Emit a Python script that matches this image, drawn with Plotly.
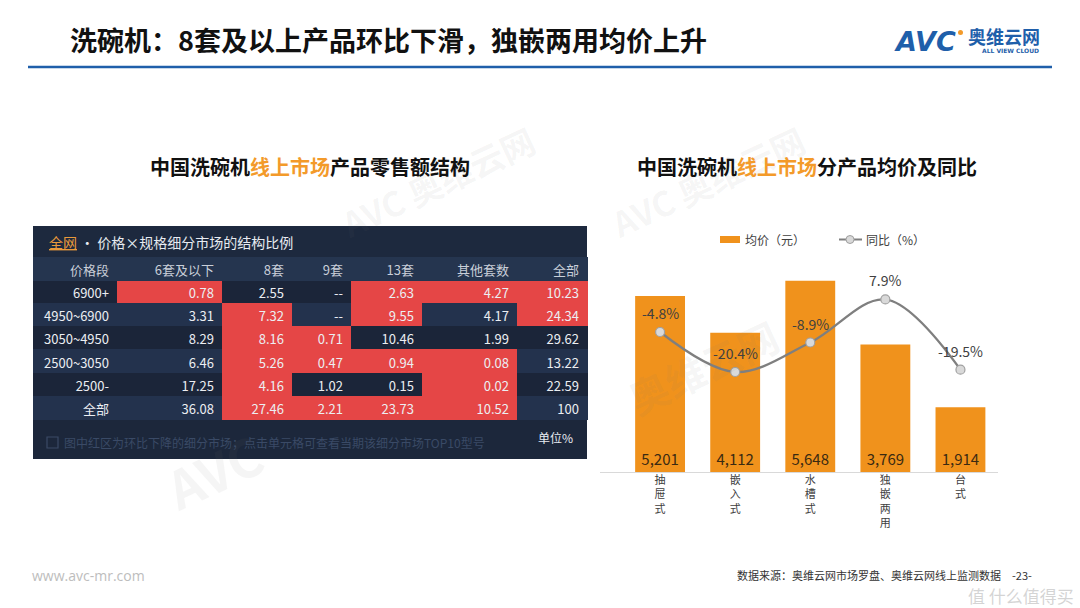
import plotly.graph_objects as go

W, H = 1080, 608
FONT = "Noto Sans CJK SC"


def px(x):
    return x / W


def py(y):
    return 1 - y / H


# ---------------- data ----------------
main_title = "洗碗机：8套及以上产品环比下滑，独嵌两用均价上升"
left_title = "中国洗碗机<span style='color:#F39A2A'>线上市场</span>产品零售额结构"
right_title = "中国洗碗机<span style='color:#F39A2A'>线上市场</span>分产品均价及同比"

tbl_tag = "全网"
tbl_caption = " • 价格×规格细分市场的结构比例"
tbl_note = "图中红区为环比下降的细分市场；点击单元格可查看当期该细分市场TOP10型号"
tbl_unit = "单位%"

col_headers = ["价格段", "6套及以下", "8套", "9套", "13套", "其他套数", "全部"]
price_bands = ["6900+", "4950~6900", "3050~4950", "2500~3050", "2500-", "全部"]
vals_6 = ["0.78", "3.31", "8.29", "6.46", "17.25", "36.08"]
vals_8 = ["2.55", "7.32", "8.16", "5.26", "4.16", "27.46"]
vals_9 = ["--", "--", "0.71", "0.47", "1.02", "2.21"]
vals_13 = ["2.63", "9.55", "10.46", "0.94", "0.15", "23.73"]
vals_other = ["4.27", "4.17", "1.99", "0.08", "0.02", "10.52"]
vals_all = ["10.23", "24.34", "29.62", "13.22", "22.59", "100"]
# 1 = 环比下降 (red cell)
down_6 = [1, 0, 0, 0, 0, 0]
down_8 = [0, 1, 1, 1, 1, 1]
down_9 = [0, 0, 1, 1, 0, 1]
down_13 = [1, 1, 0, 1, 0, 1]
down_other = [1, 0, 0, 1, 1, 1]
down_all = [1, 1, 0, 0, 0, 0]

categories = ["抽屉式", "嵌入式", "水槽式", "独嵌两用", "台式"]
avg_price = [5201, 4112, 5648, 3769, 1914]
yoy_pct = [-4.8, -20.4, -8.9, 7.9, -19.5]
legend_bar = "均价（元）"
legend_line = "同比（%）"

source_text = "数据来源：奥维云网市场罗盘、奥维云网线上监测数据"
page_no = "-23-"
site = "www.avc-mr.com"

# ---------------- styles ----------------
RED = "#E54646"
ROW_DARK = "#1B2539"
ROW_LIGHT = "#23324D"
HEAD_BG = "#25354F"
BAR = "#F0921C"
BLUE = "#1F5FAA"

fig = go.Figure()

# ---------------- table ----------------
row_bg = [ROW_DARK if i % 2 == 0 else ROW_LIGHT for i in range(len(price_bands))]
downs = [down_6, down_8, down_9, down_13, down_other, down_all]
fills = [row_bg] + [[RED if d else row_bg[i] for i, d in enumerate(col)] for col in downs]

fig.add_trace(go.Table(
    domain=dict(x=[px(33), px(587)], y=[py(421), py(257)]),
    columnwidth=[84, 105, 70, 59, 71, 95, 70],
    header=dict(values=col_headers, fill_color=HEAD_BG,
                line=dict(color=HEAD_BG, width=1), align="right", height=23,
                font=dict(color="#C9CFD9", size=13, family=FONT)),
    cells=dict(values=[price_bands, vals_6, vals_8, vals_9, vals_13, vals_other, vals_all],
               fill_color=fills, line=dict(color=fills, width=1), align="right", height=23.3,
               font=dict(color="#ECEEF2", size=13, family=FONT)),
))

shapes = []
annotations = []

# ---------------- watermarks (faint) ----------------
for (wx, wy, txt, sz) in [(330, 112, "AVC 奥维云网", 34), (815, 112, "AVC 奥维云网", 34),
                          (150, 528, "AVC", 52), (790, 430, "奥维云网", 40)]:
    annotations.append(dict(xref="paper", yref="paper", x=px(wx), y=py(wy), text="<b>" + txt + "</b>",
                            showarrow=False, textangle=-25,
                            font=dict(size=sz, color="rgba(120,120,120,0.07)", family=FONT)))

# title bar and footer of the panel
shapes.append(dict(type="rect", xref="paper", yref="paper", x0=px(33), x1=px(587),
                   y0=py(257), y1=py(226), fillcolor="#1D293E", line=dict(width=0), layer="below"))
shapes.append(dict(type="rect", xref="paper", yref="paper", x0=px(33), x1=px(587),
                   y0=py(459), y1=py(420), fillcolor="#1C273B", line=dict(width=0), layer="below"))
annotations.append(dict(xref="paper", yref="paper", x=px(47), y=py(242), xanchor="left", yanchor="middle",
                        text="<span style='color:#E99A3B'><u>" + tbl_tag + "</u></span>" + tbl_caption,
                        showarrow=False, font=dict(size=14, color="#E8ECF2", family=FONT)))
# note icon
shapes.append(dict(type="rect", xref="paper", yref="paper", x0=px(47), x1=px(58),
                   y0=py(448), y1=py(437), fillcolor="rgba(0,0,0,0)",
                   line=dict(color="#3A4A66", width=1.2)))
annotations.append(dict(xref="paper", yref="paper", x=px(62), y=py(443), xanchor="left", yanchor="middle",
                        text=tbl_note, showarrow=False, font=dict(size=12, color="#3A4A66", family=FONT)))
annotations.append(dict(xref="paper", yref="paper", x=px(575), y=py(437), xanchor="right", yanchor="middle",
                        text=tbl_unit, showarrow=False, font=dict(size=12, color="#E8ECF2", family=FONT)))

# ---------------- bar + line chart ----------------
fig.add_trace(go.Bar(
    x=categories, y=avg_price, marker=dict(color=BAR, line=dict(width=0)),
    texttemplate="%{y:,}", textposition="inside", insidetextanchor="start",
    textangle=0, constraintext="none",
    textfont=dict(size=15, color="#3A2A12", family=FONT),
    hoverinfo="skip", showlegend=False, xaxis="x", yaxis="y",
))
fig.add_trace(go.Scatter(
    x=categories, y=yoy_pct, mode="lines+markers",
    line=dict(color="#7F7F7F", width=2.3, shape="spline", smoothing=1.0),
    marker=dict(size=9, color="#D9D9D9", line=dict(color="#A0A0A0", width=1.2)),
    hoverinfo="skip", showlegend=False, xaxis="x", yaxis="y2",
))
for c, v in zip(categories, yoy_pct):
    annotations.append(dict(xref="x", yref="y2", x=c, y=v, yshift=19, text=f"{v:.1f}%",
                            showarrow=False, font=dict(size=14, color="#404040", family=FONT)))

# baseline
shapes.append(dict(type="line", xref="paper", yref="paper", x0=px(600), x1=px(998),
                   y0=py(472.5), y1=py(472.5), line=dict(color="#D9D9D9", width=1)))

# legend (manual)
shapes.append(dict(type="rect", xref="paper", yref="paper", x0=px(720), x1=px(740),
                   y0=py(243), y1=py(236), fillcolor=BAR, line=dict(width=0)))
annotations.append(dict(xref="paper", yref="paper", x=px(743), y=py(239.5), xanchor="left", yanchor="middle",
                        text=legend_bar, showarrow=False, font=dict(size=12, color="#404040", family=FONT)))
shapes.append(dict(type="line", xref="paper", yref="paper", x0=px(839), x1=px(862),
                   y0=py(239.5), y1=py(239.5), line=dict(color="#7F7F7F", width=2)))
shapes.append(dict(type="circle", xref="paper", yref="paper", x0=px(846), x1=px(854),
                   y0=py(243.5), y1=py(235.5), fillcolor="#D9D9D9", line=dict(color="#A0A0A0", width=1)))
annotations.append(dict(xref="paper", yref="paper", x=px(864), y=py(239.5), xanchor="left", yanchor="middle",
                        text=legend_line, showarrow=False, font=dict(size=12, color="#404040", family=FONT)))

# ---------------- titles / header / footer ----------------
annotations.append(dict(xref="paper", yref="paper", x=px(68), y=py(39), xanchor="left", yanchor="middle",
                        text="<b>" + main_title + "</b>", showarrow=False,
                        font=dict(size=27, color="#111111", family=FONT)))
shapes.append(dict(type="line", xref="paper", yref="paper", x0=px(28), x1=px(1052),
                   y0=py(67), y1=py(67), line=dict(color=BLUE, width=2.5)))
annotations.append(dict(xref="paper", yref="paper", x=px(310), y=py(166), xanchor="center", yanchor="middle",
                        text="<b>" + left_title + "</b>", showarrow=False,
                        font=dict(size=20, color="#111111", family=FONT)))
annotations.append(dict(xref="paper", yref="paper", x=px(807), y=py(166), xanchor="center", yanchor="middle",
                        text="<b>" + right_title + "</b>", showarrow=False,
                        font=dict(size=20, color="#111111", family=FONT)))

# logo
annotations.append(dict(xref="paper", yref="paper", x=px(892), y=py(41), xanchor="left", yanchor="middle",
                        text="<b><i>AVC</i></b>", showarrow=False,
                        font=dict(size=27, color=BLUE, family="DejaVu Sans")))
shapes.append(dict(type="circle", xref="paper", yref="paper", x0=px(958), x1=px(963),
                   y0=py(35), y1=py(30), fillcolor="#F39A2A", line=dict(width=0)))
annotations.append(dict(xref="paper", yref="paper", x=px(966), y=py(36), xanchor="left", yanchor="middle",
                        text="<b>奥维云网</b>", showarrow=False,
                        font=dict(size=18, color=BLUE, family=FONT)))
annotations.append(dict(xref="paper", yref="paper", x=px(1010), y=py(51), xanchor="center", yanchor="middle",
                        text="<b>ALL VIEW CLOUD</b>", showarrow=False,
                        font=dict(size=6, color=BLUE, family="DejaVu Sans")))

annotations.append(dict(xref="paper", yref="paper", x=px(30), y=py(575), xanchor="left", yanchor="middle",
                        text=site, showarrow=False, font=dict(size=14, color="#BDBDBD", family="Open Sans")))
annotations.append(dict(xref="paper", yref="paper", x=px(735), y=py(575), xanchor="left", yanchor="middle",
                        text=source_text, showarrow=False, font=dict(size=11, color="#333333", family=FONT)))
annotations.append(dict(xref="paper", yref="paper", x=px(1022), y=py(575), xanchor="center", yanchor="middle",
                        text=page_no, showarrow=False, font=dict(size=11, color="#333333", family=FONT)))
annotations.append(dict(xref="paper", yref="paper", x=px(1076), y=py(595), xanchor="right", yanchor="middle",
                        text="值 什么值得买", showarrow=False,
                        font=dict(size=17, color="rgba(170,170,170,0.5)", family=FONT)))

fig.update_layout(
    width=W, height=H, margin=dict(l=0, r=0, t=0, b=0),
    paper_bgcolor="white", plot_bgcolor="rgba(0,0,0,0)",
    bargap=0.336, showlegend=False,
    xaxis=dict(domain=[px(600), px(998)], type="category", range=[-0.8, 4.5],
               tickvals=categories, ticktext=["<br>".join(list(c)) for c in categories],
               tickfont=dict(size=11, color="#404040", family=FONT),
               showline=False, showgrid=False, zeroline=False, ticks="", fixedrange=True),
    yaxis=dict(domain=[py(472), py(252)], range=[0, 6500], visible=False, fixedrange=True),
    yaxis2=dict(domain=[py(472), py(252)], range=[-59.4, 26.4], overlaying="y", visible=False,
                fixedrange=True),
    shapes=shapes, annotations=annotations,
)

fig.write_html("out.html", config={"displayModeBar": False})
